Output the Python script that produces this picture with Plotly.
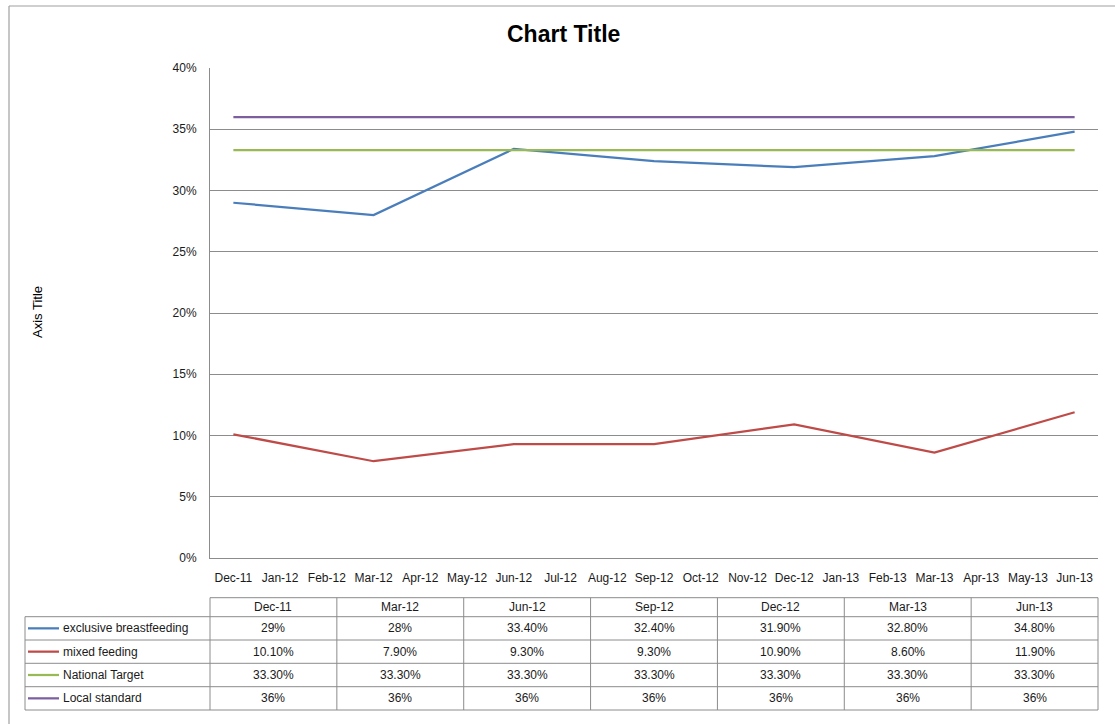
import plotly.graph_objects as go

# ---------------- data ----------------
months = ["Dec-11", "Jan-12", "Feb-12", "Mar-12", "Apr-12", "May-12", "Jun-12", "Jul-12",
          "Aug-12", "Sep-12", "Oct-12", "Nov-12", "Dec-12", "Jan-13", "Feb-13", "Mar-13",
          "Apr-13", "May-13", "Jun-13"]
quarters = ["Dec-11", "Mar-12", "Jun-12", "Sep-12", "Dec-12", "Mar-13", "Jun-13"]
exclusive_bf = [29, 28, 33.4, 32.4, 31.9, 32.8, 34.8]
mixed_feeding = [10.1, 7.9, 9.3, 9.3, 10.9, 8.6, 11.9]
national_target = [33.3, 33.3, 33.3, 33.3, 33.3, 33.3, 33.3]
local_standard = [36, 36, 36, 36, 36, 36, 36]
series_names = ["exclusive breastfeeding", "mixed feeding", "National Target", "Local standard"]
series_colors = ["#4A7EBB", "#BE4B48", "#98B954", "#7D5FA0"]
y_ticks = [0, 5, 10, 15, 20, 25, 30, 35, 40]
y_tick_labels = [f"{t}%" for t in y_ticks]

series_values = [exclusive_bf, mixed_feeding, national_target, local_standard]

# ---------------- geometry (pixels) ----------------
FW, FH = 1115, 724
PL, PR, PT, PB = 210, 1098, 68, 558
W, H = PR - PL, PB - PT


def px(x):
    return (x - PL) / W


def py(y):
    return (PB - y) / H


FONT = "Liberation Sans, Arial, sans-serif"
GRID = "#8C8C8C"

fig = go.Figure()
for name, vals, col in zip(series_names, series_values, series_colors):
    fig.add_trace(go.Scatter(x=quarters, y=vals, name=name, mode="lines",
                             line=dict(color=col, width=2.25), hoverinfo="skip"))

shapes = []
annotations = []

# outer chart border (left and top visible)
shapes.append(dict(type="line", xref="paper", yref="paper", x0=px(9), x1=px(1120),
                   y0=py(6), y1=py(6), line=dict(color="#A0A0A0", width=1.2)))
shapes.append(dict(type="line", xref="paper", yref="paper", x0=px(9), x1=px(9),
                   y0=py(6), y1=py(730), line=dict(color="#A0A0A0", width=1.2)))

# data table
row_edges = [597.7, 616.7, 640.0, 663.3, 686.7, 710.0]
LABEL_L = 25
ncol = len(quarters)
col_w = W / ncol
tl = dict(color=GRID, width=1)
shapes.append(dict(type="line", xref="paper", yref="paper", x0=px(PL), x1=px(PR),
                   y0=py(row_edges[0]), y1=py(row_edges[0]), line=tl))
for ry in row_edges[1:]:
    shapes.append(dict(type="line", xref="paper", yref="paper", x0=px(LABEL_L), x1=px(PR),
                       y0=py(ry), y1=py(ry), line=tl))
shapes.append(dict(type="line", xref="paper", yref="paper", x0=px(LABEL_L), x1=px(LABEL_L),
                   y0=py(row_edges[1]), y1=py(row_edges[-1]), line=tl))
for i in range(ncol + 1):
    xx = PL + i * col_w
    shapes.append(dict(type="line", xref="paper", yref="paper", x0=px(xx), x1=px(xx),
                       y0=py(row_edges[0]), y1=py(row_edges[-1]), line=tl))


def fmt(v):
    return f"{v:.0f}%" if float(v).is_integer() else f"{v:.2f}%"


tfont = dict(family=FONT, size=12, color="#1A1A1A")
hdr_y = (row_edges[0] + row_edges[1]) / 2
for i, q in enumerate(quarters):
    annotations.append(dict(xref="paper", yref="paper", x=px(PL + (i + 0.5) * col_w), y=py(hdr_y),
                            text=q, showarrow=False, font=tfont, xanchor="center", yanchor="middle"))
for r, (name, vals, col) in enumerate(zip(series_names, series_values, series_colors)):
    cy = (row_edges[r + 1] + row_edges[r + 2]) / 2
    shapes.append(dict(type="line", xref="paper", yref="paper", x0=px(28), x1=px(59),
                       y0=py(cy), y1=py(cy), line=dict(color=col, width=2.25)))
    annotations.append(dict(xref="paper", yref="paper", x=px(61), y=py(cy), text=name,
                            showarrow=False, font=tfont, xanchor="left", yanchor="middle"))
    for i, v in enumerate(vals):
        annotations.append(dict(xref="paper", yref="paper", x=px(PL + (i + 0.5) * col_w), y=py(cy),
                                text=fmt(v), showarrow=False, font=tfont,
                                xanchor="center", yanchor="middle"))

# title and axis title
annotations.append(dict(xref="paper", yref="paper", x=px(563), y=py(34), text="<b>Chart Title</b>",
                        showarrow=False, font=dict(family=FONT, size=23, color="#000000"),
                        xanchor="center", yanchor="middle"))
annotations.append(dict(xref="paper", yref="paper", x=px(37), y=py(312), text="Axis Title",
                        textangle=-90, showarrow=False,
                        font=dict(family=FONT, size=13, color="#000000"),
                        xanchor="center", yanchor="middle"))

fig.update_layout(
    width=FW, height=FH,
    margin=dict(l=PL, r=FW - PR, t=PT, b=FH - PB, autoexpand=False),
    paper_bgcolor="white", plot_bgcolor="white",
    showlegend=False,
    hovermode=False,
    shapes=shapes,
    annotations=annotations,
    xaxis=dict(type="category", categoryorder="array", categoryarray=months,
               tickmode="array", tickvals=months, ticktext=months,
               range=[-0.5, len(months) - 0.5], tickangle=0,
               showgrid=False, showline=True, linecolor=GRID, linewidth=1,
               ticks="outside", ticklen=9, tickcolor="rgba(0,0,0,0)",
               tickfont=dict(family=FONT, size=12, color="#1A1A1A"), zeroline=False),
    yaxis=dict(range=[0, 40], tickmode="array", tickvals=y_ticks, ticktext=y_tick_labels,
               showgrid=True, gridcolor=GRID, gridwidth=1,
               showline=True, linecolor=GRID, linewidth=1, zeroline=False,
               ticks="outside", ticklen=10, tickcolor="rgba(0,0,0,0)",
               tickfont=dict(family=FONT, size=12, color="#1A1A1A")),
)

fig.write_html("out.html", config={"displayModeBar": False},
               post_script="document.body.style.margin='0';document.body.style.overflow='hidden';")
